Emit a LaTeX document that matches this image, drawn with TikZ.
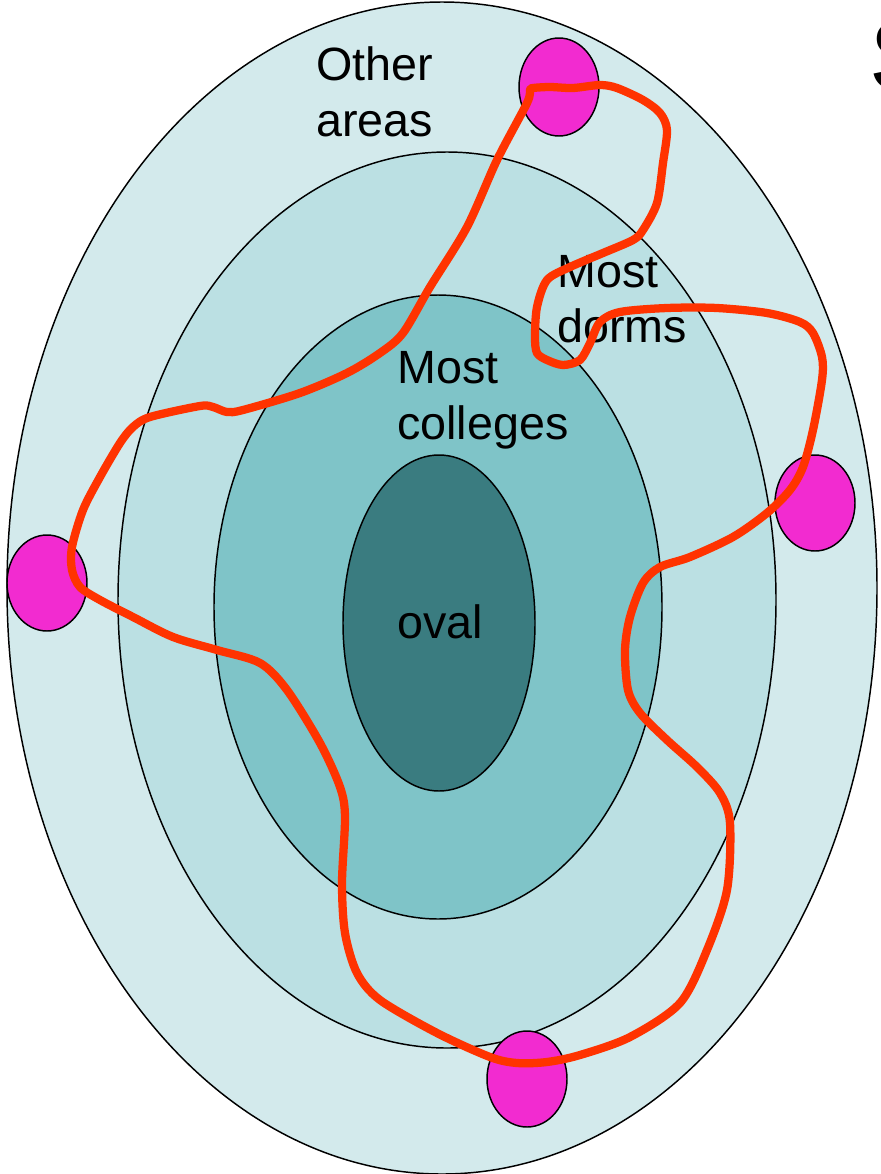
\documentclass[tikz,border=0pt]{standalone}
\usepackage{fontspec}
\setmainfont{Liberation Sans}
\definecolor{ringA}{HTML}{D3EAEC}
\definecolor{ringB}{HTML}{BBE0E3}
\definecolor{ringC}{HTML}{7FC4C8}
\definecolor{ringD}{HTML}{3A7C80}
\definecolor{dotcol}{HTML}{F22BD0}
\definecolor{loopcol}{HTML}{FF3300}
\begin{document}
\begin{tikzpicture}[x=0.75pt,y=-0.75pt,
  ring/.style={draw=black,line width=1.1pt},
  dot/.style={draw=black,line width=1.1pt,fill=dotcol},
  lbl/.style={font=\fontsize{35}{42}\selectfont,align=left,anchor=base west,inner sep=0pt},
  route/.style={draw=loopcol,line width=6.2pt,line cap=round,line join=round}]
\useasboundingbox (0,0) rectangle (881,1174);
\fill[white] (0,0) rectangle (881,1174);
% rings
\draw[ring,fill=ringA] (442,588) ellipse [x radius=435,y radius=586];
\draw[ring,fill=ringB] (447,600) ellipse [x radius=329,y radius=448];
\draw[ring,fill=ringC] (438,607) ellipse [x radius=224,y radius=312];
\draw[ring,fill=ringD] (439,623) ellipse [x radius=96,y radius=168];
% labels
\node[lbl] (other) at (316,80) {Other};
\node[lbl] (areas) at (316,136) {areas};
\node[lbl] (mostd) at (557,287) {Most};
\node[lbl] (dorms) at (557,342) {dorms};
\node[lbl] (mostc) at (397,383) {Most};
\node[lbl] (colleges) at (397,439) {colleges};
\node[lbl] (oval) at (397,638) {oval};
% magenta spots
\draw[dot] (559,87) ellipse [x radius=40,y radius=49];
\draw[dot] (47,583) ellipse [x radius=40,y radius=48];
\draw[dot] (815,503) ellipse [x radius=40,y radius=48];
\draw[dot] (527,1079) ellipse [x radius=40,y radius=48];
% route loop
\draw[route] plot[smooth cycle,tension=0.5] coordinates {
(530,90) (527,103) (497,160) (467,227) (430,287) (403,333) (380,353) (347,373)
(300,393) (243,410) (227,412) (213,407) (200,406) (150,417) (133,427) (120,443)
(100,477) (83,510) (72,547) (72,570) (80,587) (100,600) (133,617) (173,637)
(217,650) (260,663) (287,690) (320,743) (340,787) (345,817) (342,883) (345,933)
(357,973) (380,1000) (437,1033) (490,1057) (517,1063) (547,1062) (580,1055)
(630,1037) (680,1003) (707,950) (727,890) (730,823) (720,793) (697,767)
(667,740) (640,713) (628,690) (625,650) (630,617) (643,583) (660,567)
(690,557) (733,537) (767,513) (790,490) (803,467) (813,430) (822,380)
(822,357) (813,333) (800,322) (767,313) (717,308) (667,308) (620,312)
(600,322) (590,343) (580,360) (563,365) (547,360) (537,353) (535,337)
(537,307) (547,280) (570,267) (603,253) (633,240) (643,230) (657,203)
(663,163) (667,130) (660,113) (643,100) (617,88) (600,85) (573,88)
(550,87) (533,88)};
% clipped title letter
\begin{scope}
\clip (0,0) rectangle (881,1174);
\node[anchor=base west,inner sep=0pt,font=\fontsize{75}{90}\selectfont] (title) at (869,90) {S};
\end{scope}
\end{tikzpicture}
\end{document}
